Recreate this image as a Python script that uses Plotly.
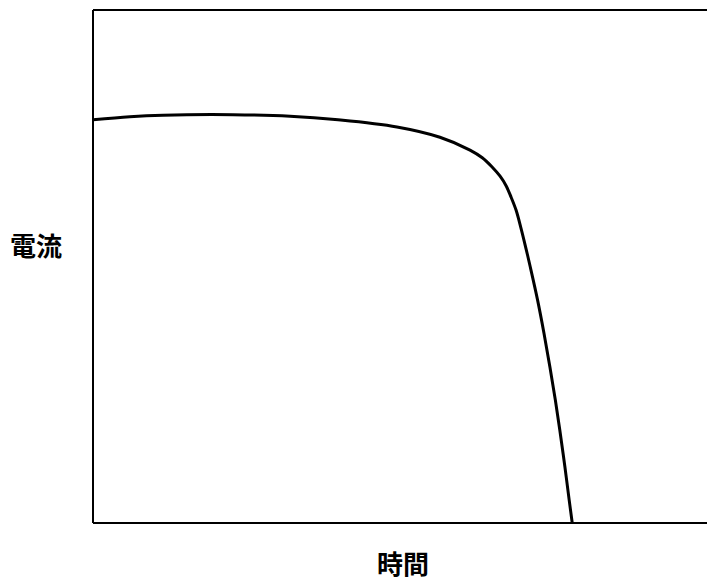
import plotly.graph_objects as go

time_vals = [0, 6.0, 11.4, 22.8, 32.1, 39.9, 49.5, 56.5, 61.4, 63.4, 65.0, 66.3, 67.3, 68.1, 68.9, 69.7, 70.5, 71.2, 72.4, 73.45, 74.4, 75.3, 76.1, 76.85, 77.55, 78.05]
current_vals = [78.6, 79.2, 79.5, 79.6, 79.3, 78.6, 77.2, 75.2, 72.7, 71.2, 69.4, 67.6, 65.7, 63.5, 61.0, 57.5, 53.6, 50.0, 43.5, 37.0, 30.5, 24.0, 17.5, 11.0, 4.5, 0]

x_label = "時間"
y_label = "電流"

W, H = 707, 586
L, R, T, B = 93, 0, 10, 63
pw, ph = W - L - R, H - T - B

fig = go.Figure()
fig.add_trace(go.Scatter(
    x=time_vals, y=current_vals, mode="lines",
    line=dict(color="black", width=3, shape="spline", smoothing=1.0),
    hoverinfo="skip", showlegend=False,
))

font = dict(family="Noto Sans CJK JP", size=26, color="black", weight="bold")
fig.add_annotation(text=y_label, xref="paper", yref="paper",
                   x=(36 - L) / pw, y=(H - B - 244) / ph,
                   showarrow=False, font=font, xanchor="center", yanchor="middle")
fig.add_annotation(text=x_label, xref="paper", yref="paper",
                   x=(403 - L) / pw, y=(H - B - 562) / ph,
                   showarrow=False, font=font, xanchor="center", yanchor="middle")

frame = dict(color="black", width=2)
fig.add_shape(type="line", xref="paper", yref="paper", x0=0, x1=0, y0=0, y1=1, line=frame)
fig.add_shape(type="line", xref="paper", yref="paper", x0=0, x1=1.05, y0=0, y1=0, line=frame)
fig.add_shape(type="line", xref="paper", yref="paper", x0=0, x1=1.05, y0=1, y1=1, line=frame)

fig.update_layout(
    width=W, height=H,
    margin=dict(l=L, r=R, t=T, b=B),
    paper_bgcolor="white", plot_bgcolor="white",
    xaxis=dict(range=[0, 100], showgrid=False, zeroline=False, showticklabels=False,
               ticks="", showline=False),
    yaxis=dict(range=[0, 100], showgrid=False, zeroline=False, showticklabels=False,
               ticks="", showline=False),
)

fig.write_html("out.html",
               config={"displayModeBar": False},
               post_script="document.body.style.margin='0';document.body.style.overflow='hidden';"
                           "document.documentElement.style.overflow='hidden';")
